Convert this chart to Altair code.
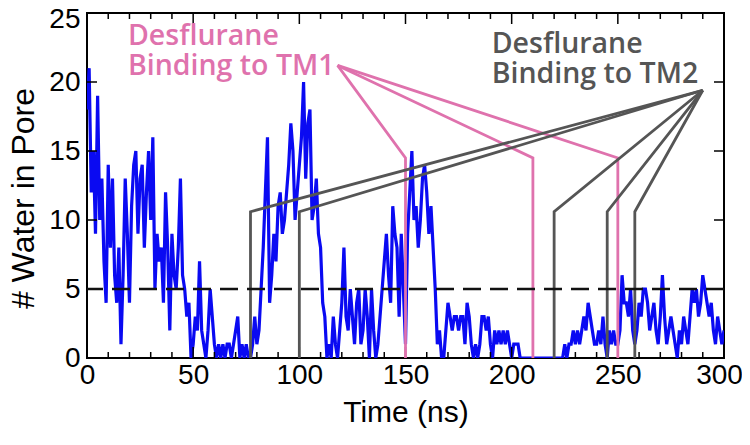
import altair as alt
import pandas as pd

# ---------------- data ----------------
time_ns = list(range(301))
water = [
    18, 21, 12, 15, 9, 19, 10, 13, 7, 4,
    14, 8, 13, 6, 4, 8, 1, 6, 13, 9,
    4, 11, 14, 15, 9, 13, 14, 8, 12, 15,
    10, 16, 5, 9, 7, 8, 4, 12, 8, 2,
    9, 6, 5, 8, 13, 6, 5, 3, 4, 0,
    1, 3, 2, 7, 2, 1, 0, 2, 5, 3,
    1, 0, 1, 0, 1, 0, 1, 1, 0, 1,
    2, 3, 0, 1, 0, 1, 0,
    0, 1, 3, 1, 2, 5, 8, 12, 16, 4,
    6, 9, 7, 11, 12, 9, 10, 12, 14, 17,
    15, 10, 12, 14, 16, 20, 13, 17, 18, 10,
    11, 13, 9, 8, 4, 3, 0, 1, 0, 3,
    1, 0, 2, 4, 8, 3, 2, 5, 3, 1,
    4, 5, 1, 2, 5, 3, 0, 5, 2, 0,
    1, 3, 5, 7, 9, 6, 4, 11, 9, 8,
    3, 9, 5, 1, 9, 12, 15, 10, 11, 8,
    10, 13, 14, 12, 9, 11, 8, 5, 1, 2,
    0, 0, 2, 4, 3, 2, 3, 3, 2, 3,
    3, 1, 4, 3, 1, 0, 1, 0,
    1, 3, 3, 2, 3, 1, 0, 2, 1, 2,
    1, 2, 1, 2, 1, 0, 1, 1, 1, 0,
    0, 0, 0, 0, 0, 0, 0, 0, 0, 0,
    0, 0, 0, 0, 0, 0, 0, 0, 0, 0,
    1, 0, 1, 1, 2, 1, 2, 1, 2, 3,
    2, 4, 3, 2, 1, 1, 2, 1, 3, 1,
    0, 2, 1, 2, 1, 1, 2, 6, 4, 4,
    3, 5, 2, 1, 2, 4, 3, 5, 5, 4,
    2, 3, 4, 2, 1, 3, 6, 3, 1, 2,
    3, 2, 1, 0, 2, 1, 3, 2, 1, 3,
    5, 4, 5, 3, 4, 6, 5, 4, 3, 4,
    2, 1, 3, 2, 1, 2,
]
threshold = [5]

tm1_sites = [150, 210, 250]
tm1_elbow = 14.5
tm1_anchor = [118, 21.2]
tm2_sites = [77, 100, 220, 245, 258]
tm2_elbow = 10.6
tm2_anchor = [290, 19.4]

label_lines = [["Desflurane", "Binding to TM1"], ["Desflurane", "Binding to TM2"]]
label_x = [19.3, 190.6]
label_y = [22.7, 22.1]
label_group = ["TM1", "TM2"]

x_ticks = [0, 50, 100, 150, 200, 250, 300]
y_ticks = [0, 5, 10, 15, 20, 25]
x_minor = [v for v in range(10, 300, 10) if v % 50 != 0]
x_major = [50, 100, 150, 200, 250]
y_major = [5, 10, 15, 20]

# ---------------- styles ----------------
W, H = 637, 345
BLUE = "#0a0af2"
PINK = "#df72ad"
GREY = "#555555"
AX_FONT = "Liberation Sans"

xs = alt.Scale(domain=[0, 300], nice=False, zero=False)
ys = alt.Scale(domain=[0, 25], nice=False)

series = pd.DataFrame({"t": time_ns, "w": water})

rows = []
for i, s in enumerate(tm1_sites):
    for o, (x, y) in enumerate([(s, 0), (s, tm1_elbow), tuple(tm1_anchor)]):
        rows.append({"id": f"a{i}", "grp": "TM1", "o": o, "t": x, "w": y})
for i, s in enumerate(tm2_sites):
    for o, (x, y) in enumerate([(s, 0), (s, tm2_elbow), tuple(tm2_anchor)]):
        rows.append({"id": f"b{i}", "grp": "TM2", "o": o, "t": x, "w": y})
marks = pd.DataFrame(rows)

labels = pd.DataFrame({"t": label_x, "w": label_y, "text": label_lines, "grp": label_group})
color_scale = alt.Scale(domain=["TM1", "TM2"], range=[PINK, GREY])

X = alt.X("t:Q", scale=xs, axis=alt.Axis(
    values=x_ticks, title="Time (ns)", labelFont=AX_FONT, labelFontSize=28,
    labelColor="black", titleFont=AX_FONT, titleFontSize=30, titleFontWeight="normal",
    titleColor="black", ticks=False, domain=False, grid=False, labelPadding=3,
    titlePadding=8, labelFlush=False,
    labelOffset={"condition": {"test": "datum.value == 300", "value": -5}, "value": 0}))
Y = alt.Y("w:Q", scale=ys, axis=alt.Axis(
    values=y_ticks, title="# Water in Pore", labelFont=AX_FONT, labelFontSize=28,
    labelColor="black", titleFont=AX_FONT, titleFontSize=32, titleFontWeight="normal",
    titleColor="black", ticks=False, domain=False, grid=False, labelPadding=7,
    titlePadding=8, labelFlush=False, titleY=185,
    labelOffset={"condition": {"test": "datum.value == 25", "value": 6}, "value": 0}))
Xp = alt.X("t:Q", scale=xs, title="Time (ns)")
Yp = alt.Y("w:Q", scale=ys, title="# Water in Pore")

line = alt.Chart(series).mark_line(color=BLUE, strokeWidth=3.2, clip=True).encode(x=X, y=Y)

dash = alt.Chart(pd.DataFrame({"w": threshold})).mark_rule(
    color="#111111", strokeWidth=2.5, strokeDash=[18, 9]
).encode(y=Yp)

refs = alt.Chart(marks).mark_line(strokeWidth=2.8).encode(
    x=Xp, y=Yp,
    detail="id:N",
    order="o:Q",
    color=alt.Color("grp:N", scale=color_scale, legend=None),
)

texts = alt.Chart(labels).mark_text(
    align="left", baseline="alphabetic", font="Open Sans", fontSize=28.5,
    fontWeight=600, lineHeight=30
).encode(
    x=Xp, y=Yp,
    text="text",
    color=alt.Color("grp:N", scale=color_scale, legend=None),
)

def xtick_layer(vals, top, length):
    d = pd.DataFrame({"t": vals})
    if top:
        enc = dict(y=alt.value(0), y2=alt.value(length))
    else:
        enc = dict(y=alt.value(H), y2=alt.value(H - length))
    return alt.Chart(d).mark_rule(color="black", strokeWidth=1.5).encode(x=Xp, **enc)

def ytick_layer(vals, right, length):
    d = pd.DataFrame({"w": vals})
    if right:
        enc = dict(x=alt.value(W), x2=alt.value(W - length))
    else:
        enc = dict(x=alt.value(0), x2=alt.value(length))
    return alt.Chart(d).mark_rule(color="black", strokeWidth=1.5).encode(y=Yp, **enc)

tick_layers = [
    xtick_layer(x_minor, False, 6), xtick_layer(x_minor, True, 6),
    xtick_layer(x_major, False, 11), xtick_layer(x_major, True, 11),
    ytick_layer(y_major, False, 10), ytick_layer(y_major, True, 10),
]

chart = alt.layer(line, *tick_layers, refs, dash, texts).properties(
    width=W, height=H,
    padding={"left": 79, "top": 5, "right": 18, "bottom": 79},
    autosize=alt.AutoSizeParams(type="none"),
    background="white",
).configure_view(stroke="black", strokeWidth=2)

chart.save("out.html", embed_options={"renderer": "svg", "actions": False})
